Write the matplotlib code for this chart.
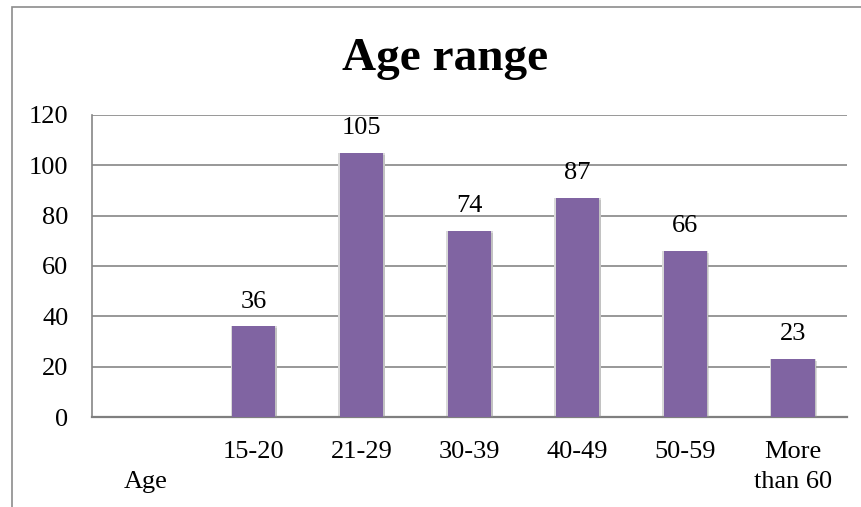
import matplotlib
matplotlib.use("Agg")
import matplotlib.pyplot as plt
import matplotlib.patheffects as pe
from matplotlib.patches import Rectangle

categories = ["\nAge", "15-20", "21-29", "30-39", "40-49", "50-59", "More\nthan 60"]
values = [None, 36, 105, 74, 87, 66, 23]
y_ticks = [0, 20, 40, 60, 80, 100, 120]
title = "Age range"

plt.rcParams["font.family"] = ["Liberation Serif", "DejaVu Serif"]

W, H = 862, 507
fig = plt.figure(figsize=(W / 100, H / 100), dpi=100)

# outer chart frame (runs off the right and bottom edges)
fig.patches.append(Rectangle((12 / W, -0.05), 1.2, 1 - 7 / H + 0.05,
                             transform=fig.transFigure, fill=False,
                             edgecolor="#8c8c8c", linewidth=1.2))

ax = fig.add_axes([92 / W, 1 - 417 / H, (847 - 92) / W, (417 - 115) / H])

xs = list(range(len(categories)))
bar_x = [x for x, v in zip(xs, values) if v is not None]
bar_v = [v for v in values if v is not None]

# soft glow behind the bars
ax.bar(bar_x, bar_v, width=0.43, color="#d9d9d9", zorder=2)
bars = ax.bar(bar_x, bar_v, width=0.4, color="#8064A2", zorder=3,
              path_effects=[pe.SimplePatchShadow(offset=(1.5, -1.5),
                                                 shadow_rgbFace="#999999",
                                                 alpha=0.35),
                            pe.Normal()])

for x, v in zip(bar_x, bar_v):
    ax.annotate(str(v), (x, v), xytext=(0, 10), textcoords="offset points",
                ha="center", va="bottom", fontsize=19)

ax.set_xlim(-0.5, len(categories) - 0.5)
ax.set_ylim(0, 120)
ax.set_yticks(y_ticks)
ax.set_yticklabels([str(t) for t in y_ticks], fontsize=19)
ax.set_xticks(xs)
ax.set_xticklabels(categories, fontsize=19, linespacing=1.47)
ax.tick_params(axis="both", length=0)
ax.tick_params(axis="y", pad=17)
ax.tick_params(axis="x", pad=17)

ax.grid(axis="y", color="#868686", linewidth=1.2, zorder=0)
ax.set_axisbelow(True)
for s in ["top", "right"]:
    ax.spines[s].set_visible(False)
ax.spines["left"].set_color("#868686")
ax.spines["left"].set_linewidth(1.2)
ax.spines["bottom"].set_color("#7f7f7f")
ax.spines["bottom"].set_linewidth(1.6)

fig.text(445 / W, 1 - 59 / H, title, ha="center", va="center",
         fontsize=34, fontweight="bold")

fig.savefig("out.png", dpi=100)
